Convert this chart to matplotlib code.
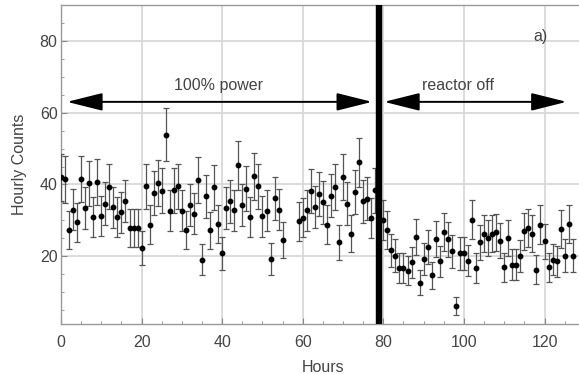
import numpy as np
import matplotlib
matplotlib.use("Agg")
import matplotlib.pyplot as plt
from matplotlib.ticker import MultipleLocator

plt.rcParams['font.family'] = ['Liberation Sans', 'DejaVu Sans']

# Reactor at 100% power (hours 0-55, 59-78)
hours_on = list(range(0, 56)) + list(range(59, 79))
counts_on = [42.0, 41.4, 27.4, 33.0, 29.5, 41.6, 33.5, 40.3, 31.0, 40.6,
             31.3, 34.7, 39.4, 33.6, 31.0, 32.3, 35.4, 28.0, 28.0, 28.0,
             22.3, 39.5, 28.8, 37.5, 40.4, 38.3, 53.9, 32.7, 38.4, 39.5,
             32.7, 27.4, 34.4, 31.9, 41.2, 19.1, 36.7, 27.2, 39.2, 29.0,
             20.9, 33.5, 35.3, 32.8, 45.3, 34.4, 38.8, 31.0, 42.3, 39.5,
             31.1, 32.7, 19.3, 36.2, 33.0, 24.5,
             29.7, 30.8, 32.8, 38.1, 33.8, 37.4, 35.0, 28.8, 36.9, 39.3,
             23.9, 42.1, 34.7, 26.3, 37.9, 46.2, 35.3, 36.1, 30.7, 38.4]

# Reactor off (hours 80-127)
hours_off = list(range(80, 128))
counts_off = [30.1, 27.4, 21.7, 20.2, 16.8, 16.8, 16.0, 18.3, 25.3, 12.7,
              19.3, 22.5, 14.7, 24.9, 18.6, 26.8, 24.7, 21.4, 6.3, 20.9,
              20.9, 18.8, 30.2, 16.8, 23.9, 26.3, 25.1, 26.3, 26.7, 24.4,
              16.9, 25.1, 17.7, 17.7, 20.0, 27.0, 27.9, 26.3, 16.3, 28.8,
              24.2, 16.9, 19.1, 18.6, 27.6, 20.2, 29.0, 20.2]

reactor_off_hour = 79
x_ticks = [0, 20, 40, 60, 80, 100, 120]
y_ticks = [20, 40, 60, 80]

hours = np.array(hours_on + hours_off)
counts = np.array(counts_on + counts_off)
errors = np.sqrt(counts)  # Poisson uncertainty

txt = '#444444'
fig = plt.figure(figsize=(5.79, 3.74), dpi=100)
ax = fig.add_axes([0.1054, 0.134, 0.8946 + 0.01, 0.853])

ax.errorbar(hours, counts, yerr=errors, fmt='o', color='black', ms=3.2,
            ecolor='#555555', elinewidth=0.9, capsize=2.4, capthick=0.9, zorder=3)

ax.axvline(reactor_off_hour, color='black', lw=4.6, zorder=4)

ax.set_xlim(0, 130)
ax.set_ylim(1.2, 90)
ax.set_xticks(x_ticks)
ax.set_yticks(y_ticks)
ax.xaxis.set_minor_locator(MultipleLocator(5))
ax.yaxis.set_minor_locator(MultipleLocator(5))
ax.tick_params(which='both', direction='in', colors='#888888', labelcolor=txt,
               labelsize=11.5)
ax.tick_params(axis='x', which='major', pad=8)
ax.tick_params(axis='y', which='major', pad=2.5)
ax.tick_params(which='major', length=4)
ax.tick_params(which='minor', length=2.5)
ax.grid(True, which='major', color='#d9d9d9', lw=1.3, zorder=0)
ax.set_axisbelow(True)
for s in ax.spines.values():
    s.set_color('#999999')
    s.set_linewidth(1.0)

ax.set_xlabel('Hours', color=txt, fontsize=11.5, labelpad=7)
ax.set_ylabel('Hourly Counts', color=txt, fontsize=11.5, labelpad=9)

arrow_kw = dict(arrowstyle='<|-|>,head_length=2.2,head_width=0.55',
                color='black', lw=1.4, shrinkA=0, shrinkB=0)
ax.annotate('', xy=(77.2, 63), xytext=(1.5, 63), arrowprops=arrow_kw, zorder=5)
ax.annotate('', xy=(125.5, 63), xytext=(80.2, 63), arrowprops=arrow_kw, zorder=5)

ax.text(39.2, 67.5, '100% power', color=txt, fontsize=11.5, ha='center', va='center')
ax.text(98.6, 67.5, 'reactor off', color=txt, fontsize=11.5, ha='center', va='center')
ax.text(119.0, 81.2, 'a)', color=txt, fontsize=11.5, ha='center', va='center')

fig.savefig('out.png', dpi=100)
